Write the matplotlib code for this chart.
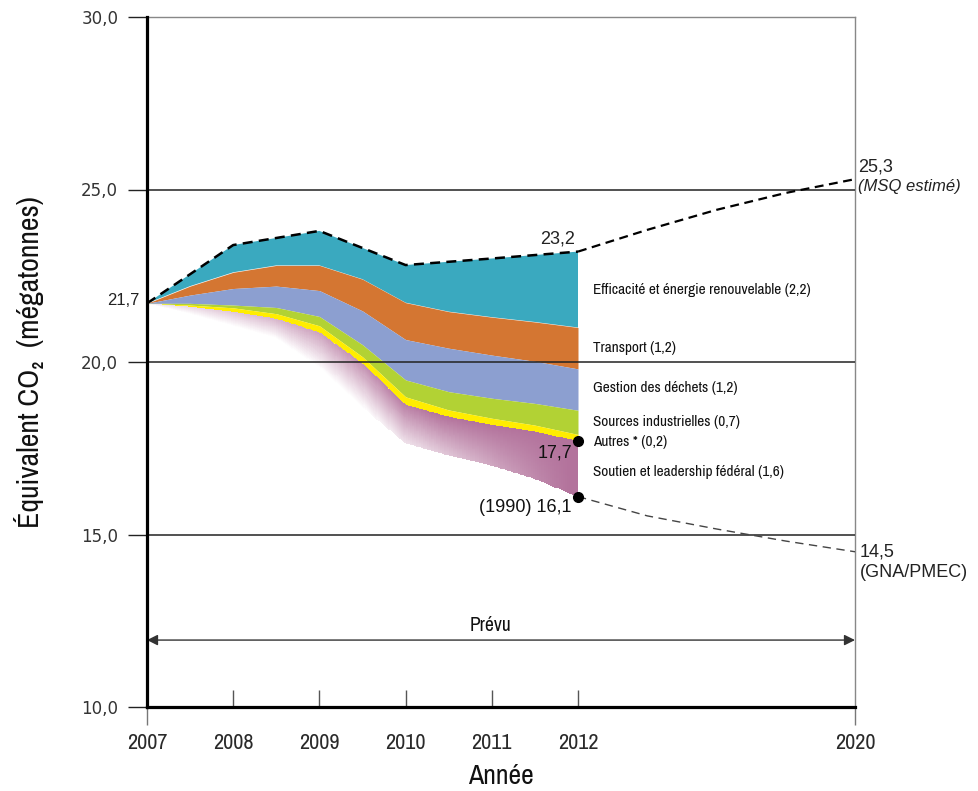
import numpy as np
import matplotlib
matplotlib.use("Agg")
import matplotlib.pyplot as plt
from matplotlib.ticker import FixedLocator, FuncFormatter

# ---------------- data ----------------
categories = ["Efficacité et énergie renouvelable", "Transport", "Gestion des déchets",
              "Sources industrielles", "Autres *", "Soutien et leadership fédéral"]
reductions_2012 = [2.2, 1.2, 1.2, 0.7, 0.2, 1.6]

years = [2007, 2008, 2009, 2010, 2011, 2012]
total_bau = [21.7, 23.39, 23.8, 22.81, 23.0, 23.2]          # dashed top line

half_years = [2007, 2007.5, 2008, 2008.5, 2009, 2009.5, 2010, 2010.5, 2011, 2011.5, 2012]
teal_bottom = [21.7, 22.2, 22.6, 22.8, 22.8, 22.4, 21.72, 21.46, 21.3, 21.16, 21.0]
orange_bottom = [21.7, 21.94, 22.13, 22.2, 22.07, 21.48, 20.65, 20.4, 20.2, 20.02, 19.8]
blue_bottom = [21.7, 21.7, 21.65, 21.58, 21.32, 20.5, 19.48, 19.14, 18.95, 18.8, 18.6]
green_bottom = [21.7, 21.65, 21.57, 21.4, 21.05, 20.15, 18.99, 18.61, 18.37, 18.17, 17.9]
yellow_bottom = [21.7, 21.6, 21.45, 21.25, 20.85, 19.95, 18.75, 18.41, 18.17, 17.98, 17.7]
purple_bottom = [21.7, 21.4, 21.05, 20.7, 19.85, 18.7, 17.65, 17.3, 17.0, 16.62, 16.1]

proj_years = [2012, 2014, 2016, 2018, 2020]
proj_bau = [23.2, 23.83, 24.41, 24.9, 25.3]
proj_target = [16.1, 15.54, 15.16, 14.81, 14.5]

xtick_major = [2008, 2009, 2010, 2011, 2012]
xtick_minor = [2007, 2020]
yticks = [10, 15, 20, 25, 30]

colors = ["#3aa9bf", "#d47632", "#8c9fd0", "#b2d234", "#ffed00", "#b3739c"]

COND = ["Archivo Narrow", "DejaVu Sans"]
SANS = ["Liberation Sans", "DejaVu Sans"]

# ---------------- figure ----------------
fig = plt.figure(figsize=(9.79, 7.91), dpi=100)
ax = fig.add_axes([147/979, (791-707)/791, (855-147)/979, (707-17)/791])

K = (855-578) / ((578-147)/5) / 8.0

def fwd(y):
    y = np.asarray(y, dtype=float)
    return np.where(y <= 2012, y - 2007, 5 + (y - 2012) * K)

def inv(p):
    p = np.asarray(p, dtype=float)
    return np.where(p <= 5, p + 2007, 2012 + (p - 5) / K)

ax.set_xscale("function", functions=(fwd, inv))

# bands
ax.fill(list(years) + half_years[::-1], list(total_bau) + teal_bottom[::-1],
        color=colors[0], lw=0, zorder=2)
ax.fill_between(half_years, orange_bottom, teal_bottom, color=colors[1], lw=0, zorder=2)
ax.fill_between(half_years, blue_bottom, orange_bottom, color=colors[2], lw=0, zorder=2)
ax.fill_between(half_years, green_bottom, blue_bottom, color=colors[3], lw=0, zorder=2)
ax.fill_between(half_years, yellow_bottom, green_bottom, color=colors[4], lw=0, zorder=2)

# purple gradient band (colour fades towards the lower left)
xf = np.linspace(2007, 2012, 201)
top_f = np.interp(xf, half_years, yellow_bottom)
bot_f = np.interp(xf, half_years, purple_bottom)
s = np.linspace(0, 1, 41)
X = np.tile(xf, (len(s), 1))
Y = bot_f[None, :] + (top_f - bot_f)[None, :] * s[:, None]
pc = (xf[:-1] + xf[1:]) / 2 - 2007
sc = (s[:-1] + s[1:]) / 2
lo = np.clip((pc - 2.5) / 2.4, 0, 1)
hi = np.minimum(1, 0.15 + 0.25 * pc)
alpha = lo[None, :] + sc[:, None] * (hi - lo)[None, :]
base = np.array(matplotlib.colors.to_rgb(colors[5]))
C = np.ones((len(s) - 1, len(xf) - 1, 4))
for k in range(3):
    C[:, :, k] = 1 - alpha * (1 - base[k])
ax.pcolormesh(X, Y, C, shading="flat", edgecolors="none", antialiased=False, zorder=2)

# grid lines
for v in [15, 20, 25]:
    ax.axhline(v, color="#222222", lw=1.1, zorder=3)

# dashed lines
ax.plot(years, total_bau, color="black", lw=1.8, dashes=(4, 2.5), zorder=4)
ax.plot(proj_years, proj_bau, color="black", lw=1.6, dashes=(4, 2.5), zorder=4)
ax.plot(proj_years, proj_target, color="#444444", lw=1.0, dashes=(6, 4), zorder=4)

# dots
ax.plot([2012, 2012], [17.7, 16.1], "o", color="black", ms=7, zorder=6, clip_on=False)

# category labels
cum = np.cumsum([0] + reductions_2012)
top2012 = total_bau[-1]
nudge = [0, 0, 0.05, 0, -0.12, -0.08]
for i, (name, r) in enumerate(zip(categories, reductions_2012)):
    mid = top2012 - (cum[i] + cum[i + 1]) / 2 + nudge[i]
    lab = f"{name} ({str(r).replace('.', ',')})"
    ax.annotate(lab, xy=(2012, mid), xytext=(15, 0), textcoords="offset pixels",
                ha="left", va="center", fontsize=11, family=COND, color="#111111")

# value labels
ax.annotate("23,2", xy=(2012, 23.2), xytext=(-3, 13), textcoords="offset pixels",
            ha="right", va="center", fontsize=13, family=SANS, color="#222222")
ax.annotate("17,7", xy=(2012, 17.7), xytext=(-6, -12), textcoords="offset pixels",
            ha="right", va="center", fontsize=13, family=SANS, color="#111111")
ax.annotate("(1990) 16,1", xy=(2012, 16.1), xytext=(-6, -11), textcoords="offset pixels",
            ha="right", va="center", fontsize=13, family=SANS, color="#111111")
ax.annotate("21,7", xy=(2007, 21.7), xytext=(-7, 3), textcoords="offset pixels",
            ha="right", va="center", fontsize=12, family=SANS, color="#222222",
            annotation_clip=False)
ax.annotate("25,3", xy=(2020, 25.3), xytext=(3, 12), textcoords="offset pixels",
            ha="left", va="center", fontsize=13, family=SANS, color="#222222",
            annotation_clip=False)
ax.annotate("(MSQ estimé)", xy=(2020, 25.3), xytext=(3, -7), textcoords="offset pixels",
            ha="left", va="center", fontsize=12, family=SANS, style="italic",
            color="#222222", annotation_clip=False)
ax.annotate("14,5", xy=(2020, 14.5), xytext=(5, 0), textcoords="offset pixels",
            ha="left", va="center", fontsize=13, family=SANS, color="#222222",
            annotation_clip=False)
ax.annotate("(GNA/PMEC)", xy=(2020, 14.5), xytext=(5, -21), textcoords="offset pixels",
            ha="left", va="center", fontsize=13, family=SANS, color="#222222",
            annotation_clip=False)

# Prévu arrow
ax.annotate("", xy=(2020, 11.94), xytext=(2007, 11.94),
            arrowprops=dict(arrowstyle="<|-|>", color="#333333", lw=1.0,
                            mutation_scale=16, shrinkA=0, shrinkB=0),
            annotation_clip=False, zorder=5)
ax.text(2010.98, 12.35, "Prévu", ha="center", va="center", fontsize=14,
        family=COND, color="#111111")

# axes limits & ticks
ax.set_xlim(2007, 2020)
ax.set_ylim(10, 30)
ax.set_yticks(yticks)
ax.yaxis.set_major_formatter(FuncFormatter(lambda v, p: f"{v:.1f}".replace(".", ",")))
ax.tick_params(axis="y", direction="out", length=13.7, width=1, color="#222222",
               labelsize=12, labelcolor="#333333", pad=7)
for lbl in ax.get_yticklabels():
    lbl.set_family(["DejaVu Sans"])

ax.xaxis.set_major_locator(FixedLocator(xtick_major))
ax.xaxis.set_minor_locator(FixedLocator(xtick_minor))
fmt = FuncFormatter(lambda v, p: f"{v:.0f}")
ax.xaxis.set_major_formatter(fmt)
ax.xaxis.set_minor_formatter(fmt)
ax.tick_params(axis="x", which="major", direction="in", length=12.5, width=1,
               color="#555555", labelsize=16, labelcolor="#2a2a2a", pad=19)
ax.tick_params(axis="x", which="minor", direction="out", length=13, width=1,
               color="#777777", labelsize=16, labelcolor="#2a2a2a", pad=6)
for lbl in ax.get_xticklabels(which="both"):
    lbl.set_family(COND)

for side in ["top", "right"]:
    ax.spines[side].set_color("#888888")
    ax.spines[side].set_linewidth(1.0)
ax.spines["left"].set_color("black")
ax.spines["left"].set_linewidth(2.3)
ax.spines["bottom"].set_color("black")
ax.spines["bottom"].set_linewidth(2.3)
ax.spines["left"].set_zorder(7)
ax.spines["bottom"].set_zorder(7)

ax.set_xlabel("Année", family=COND, fontsize=20, labelpad=8, color="#111111")
ax.set_ylabel("Équivalent CO₂  (mégatonnes)", family=COND, fontsize=21.5,
              labelpad=27, color="#111111")

fig.savefig("out.png", dpi=100, facecolor="white")
